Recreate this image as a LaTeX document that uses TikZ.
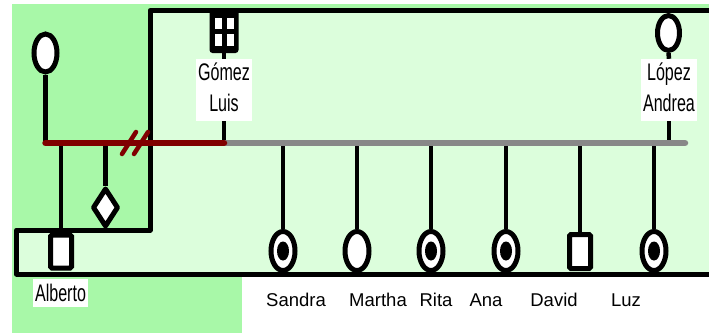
\documentclass[tikz,border=0pt]{standalone}
\usepackage{fontspec}
\setmainfont{Liberation Sans}
\usepackage{graphicx}
\usetikzlibrary{shapes.geometric}
\definecolor{bggreen}{HTML}{A8F8A8}
\definecolor{lightg}{HTML}{DCFEDC}
\definecolor{dred}{HTML}{800000}
\definecolor{lgray}{HTML}{888888}
\newcommand{\nar}[1]{\scalebox{0.67}[1]{#1}}
\begin{document}
\begin{tikzpicture}[x=1pt,y=-1pt,
  fem/.style={ellipse, draw=black, line width=5pt, fill=white, inner sep=0pt, minimum width=24pt, minimum height=39pt},
  kiddot/.style={ellipse, fill=black, inner sep=0pt, minimum width=12pt, minimum height=19pt},
  male/.style={rectangle, draw=black, line width=5pt, fill=white, inner sep=0pt, minimum width=21pt, minimum height=34pt, rounded corners=1.5pt},
  link/.style={line width=4.5pt},
  kidlabel/.style={font=\fontsize{18.5}{22}\selectfont, anchor=base, inner sep=0pt},
  namebox/.style={fill=white, inner sep=0pt, align=center, font=\fontsize{24}{31}\selectfont},
  cell/.style={fill=white},
]
\useasboundingbox (0,0) rectangle (709,333);
\fill[white] (0,0) rectangle (709,333);
\fill[bggreen] (12,4) rectangle (709,333);
\fill[white] (242,276) rectangle (709,333);
\fill[lightg] (150,10) -- (712,10) -- (712,274) -- (16.5,274) -- (16.5,230) -- (150,230) -- cycle;

% Gomez symbol (under frame line)
\node[fill=black, inner sep=0pt, minimum width=29pt, minimum height=44pt, rounded corners=3pt] (gomez) at (224,31) {};
\fill[cell] (214.5,17.5) rectangle (222,28.5);
\fill[cell] (226.5,17.5) rectangle (234,28.5);
\fill[cell] (214.5,34) rectangle (222,46);
\fill[cell] (226.5,34) rectangle (234,46);

\draw[link, line width=5pt, line join=round] (714,10.5) -- (150,10.5) -- (150,230) -- (16.5,230) -- (16.5,274) -- (714,274);

% coordinates on the couple lines
\coordinate (rl) at (45.5,143);
\coordinate (ra) at (61,143);
\coordinate (rd) at (105.5,143);
\coordinate (gm) at (224,143);
\coordinate (lp) at (669,143);
\coordinate (gr) at (685,143);

% top-left mother
\node[fem, minimum width=23pt, minimum height=38pt] (mother) at (45.5,53) {};
\draw[link] (mother.south) -- (rl);

% Alberto and diamond
\node[male, minimum height=33pt] (alberto) at (61,251.5) {};
\draw[link] (ra) -- (alberto.north);
\node[diamond, draw=black, line width=5pt, line join=round, fill=white, inner sep=0pt, minimum width=26pt, minimum height=39pt] (dia) at (105.5,207.5) {};
\draw[link] (rd) -- (dia.north);

% Gomez label
\node[namebox, minimum width=56pt, minimum height=62pt] (gomezlbl) at (224,90) {\nar{Gómez}\\\nar{Luis}\rule[-5pt]{0pt}{0pt}};
\draw[link] (gomez.south) -- (gomezlbl.north);
\draw[link] (gomezlbl.south) -- (gm);

% Lopez
\node[fem, minimum width=22pt, minimum height=35pt] (lopez) at (668.5,33) {};
\node[namebox, minimum width=56pt, minimum height=62pt] (lopezlbl) at (669,90) {\nar{López}\\\nar{Andrea}\rule[-5pt]{0pt}{0pt}};
\draw[link] (lopez.south) -- (lopezlbl.north);
\draw[link] (lopezlbl.south) -- (lp);

% children
\node[fem] (sandra) at (283,251) {};
\node[kiddot] (sandradot) at (sandra.center) {};
\node[fem] (martha) at (357,251) {};
\node[fem] (rita) at (431,251) {};
\node[kiddot] (ritadot) at (rita.center) {};
\node[fem] (ana) at (506,251) {};
\node[kiddot] (anadot) at (ana.center) {};
\node[male] (david) at (580,251.5) {};
\node[fem] (luz) at (654,251) {};
\node[kiddot] (luzdot) at (luz.center) {};
\foreach \k in {sandra,martha,rita,ana,david,luz}
  \draw[link] (\k.north) -- (\k.north |- gm);

% couple lines
\draw[lgray, line width=6.5pt, line cap=round] (gm) -- (gr);
\draw[dred, line width=6.5pt, line cap=round] (rl) -- (gm);
\draw[dred, line width=4.5pt, line cap=round] (122,154) -- (136,132);
\draw[dred, line width=4.5pt, line cap=round] (134,154) -- (148,132);

% labels
\node[namebox, minimum width=55pt, minimum height=28pt] (alblbl) at (60.5,293) {\nar{Alberto}};
\node[kidlabel] (lsandra) at (296,306) {Sandra};
\node[kidlabel] (lmartha) at (378,306) {Martha};
\node[kidlabel] (lrita) at (436,306) {Rita};
\node[kidlabel] (lana) at (486,306) {Ana};
\node[kidlabel] (ldavid) at (554,306) {David};
\node[kidlabel] (lluz) at (626,306) {Luz};
\end{tikzpicture}
\end{document}
